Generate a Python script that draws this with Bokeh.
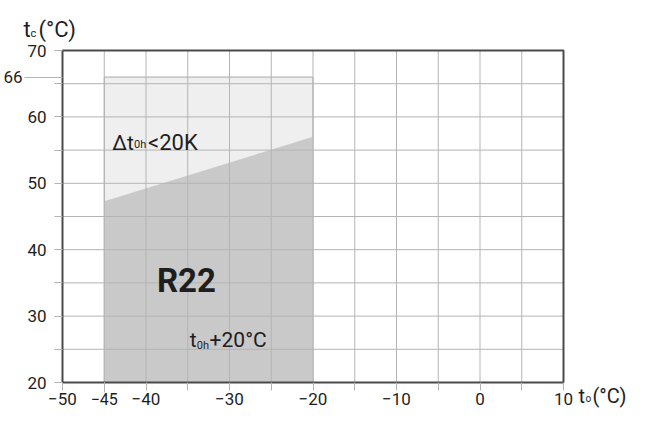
from bokeh.plotting import figure
from bokeh.models import Range1d, FixedTicker, Label, LinearAxis
from bokeh.embed import file_html
from bokeh.resources import INLINE

# ---- data ----
x_major = [-50, -40, -30, -20, -10, 0, 10]
x_minor = [-45, -35, -25, -15, -5, 5]
y_major = [20, 30, 40, 50, 60, 70]
y_minor = [25, 35, 45, 55, 65]
t0_limits = [-45, -20]            # evaporating temperature envelope (deg C)
tc_max = 66                       # max condensing temperature (deg C)
tc_superheat_line = [47.3, 57.0]  # lower edge of the "dt0h<20K" zone at t0 = -45 / -20
tc_min = 20

FONT = "Roboto"
TXT = "#1e1e1e"
GRID = "#b4b4b4"

W, H = 630, 408
# plot box position on the canvas (px)
BOX_L, BOX_R, BOX_T, BOX_B = 62, 563, 50, 382
X0, X1 = x_major[0], x_major[-1]
Y0, Y1 = y_major[0], y_major[-1]
SX = (BOX_R - BOX_L) / (X1 - X0)
SY = (BOX_B - BOX_T) / (Y1 - Y0)


# canvas pixel -> data (layout / text placement only)
def dx(px):
    return X0 + (px - BOX_L) / SX


def dy(py):
    return Y0 + (BOX_B - py) / SY


# reference-image pixel (inside the box) -> canvas pixel
def rx(x):
    return BOX_L + (x - 65) * (BOX_R - BOX_L) / 504


def ry(y):
    return BOX_T + (y - 53) * (BOX_B - BOX_T) / 335


p = figure(width=W, height=H, output_backend="svg", toolbar_location=None,
           x_range=Range1d(dx(0), dx(W)), y_range=Range1d(dy(H), dy(0)),
           x_axis_type=None, y_axis_type=None, min_border=0)
p.background_fill_color = "white"
p.border_fill_color = "white"
p.outline_line_color = None
p.xgrid.visible = False
p.ygrid.visible = False

# shaded zones
p.quad(left=t0_limits[0], right=t0_limits[1], bottom=tc_min, top=tc_max,
       fill_color="#efefef", line_color="#a8a8a8", line_width=1)
p.patch(x=[t0_limits[0], t0_limits[0], t0_limits[1], t0_limits[1]],
        y=[tc_min, tc_superheat_line[0], tc_superheat_line[1], tc_min],
        fill_color="#c9c9c9", line_color=None)

# grid every 5 units inside the box
xg = sorted(x_major[1:-1] + x_minor)
yg = sorted(y_major[1:-1] + y_minor)
p.segment(x0=xg, x1=xg, y0=[Y0] * len(xg), y1=[Y1] * len(xg), line_color=GRID, line_width=1)
p.segment(x0=[X0] * len(yg), x1=[X1] * len(yg), y0=yg, y1=yg, line_color=GRID, line_width=1)

# plot box
p.quad(left=X0, right=X1, bottom=Y0, top=Y1, fill_color=None, line_color="#4a4a4a", line_width=2)


def style_axis(ax, standoff):
    ax.axis_line_color = None
    ax.major_tick_line_color = GRID
    ax.minor_tick_line_color = GRID
    ax.major_tick_in = 0
    ax.minor_tick_in = 0
    ax.major_tick_out = 8
    ax.minor_tick_out = 8
    ax.major_label_standoff = standoff
    ax.major_label_text_font = FONT
    ax.major_label_text_font_size = "17px"
    ax.major_label_text_color = TXT


xa = LinearAxis(fixed_location=Y0, ticker=FixedTicker(ticks=x_major, minor_ticks=x_minor))
style_axis(xa, 2)
p.add_layout(xa, "below")

ya = LinearAxis(fixed_location=X0, ticker=FixedTicker(ticks=y_major, minor_ticks=y_minor))
style_axis(ya, 8)
p.add_layout(ya, "left")

# extra long tick with label for tc = 66
ya66 = LinearAxis(fixed_location=X0, ticker=FixedTicker(ticks=[tc_max], minor_ticks=[]))
style_axis(ya66, 2)
ya66.major_tick_out = BOX_L - 24
p.add_layout(ya66, "left")

# extra long tick with label for t0 = -45
xa45 = LinearAxis(fixed_location=Y0, ticker=FixedTicker(ticks=[t0_limits[0]], minor_ticks=[]))
style_axis(xa45, 0)
xa45.major_tick_out = 10
xa45.major_label_text_font_size = "16px"
p.add_layout(xa45, "below")


def lab(px, py, text, size, bold=False, align="left"):
    p.add_layout(Label(x=dx(px), y=dy(py), text=text, text_font=FONT, text_font_size=size,
                       text_font_style="bold" if bold else "normal", text_color=TXT,
                       text_align=align, text_baseline="alphabetic"))


# axis titles
lab(23, 29, "t", "22px")
lab(30, 33, "c", "11px")
lab(38, 29, "(°C)", "22px")
lab(578, 395, "t", "20px")
lab(585, 398, "o", "10px")
lab(626, 395, "(°C)", "20px", align="right")

# zone annotations
lab(rx(115), ry(146), "Δ", "21px")
lab(rx(130), ry(146), "t", "21px")
lab(rx(137), ry(148), "0h", "11px")
lab(rx(151), ry(146), "<20K", "22px")
lab(rx(160), ry(285), "R22", "33px", bold=True)
lab(rx(193), ry(345), "t", "21px")
lab(rx(200), ry(351), "0h", "11px")
lab(rx(213), ry(345), "+20°C", "21px")

open("out.html", "w").write(file_html(p, INLINE))
